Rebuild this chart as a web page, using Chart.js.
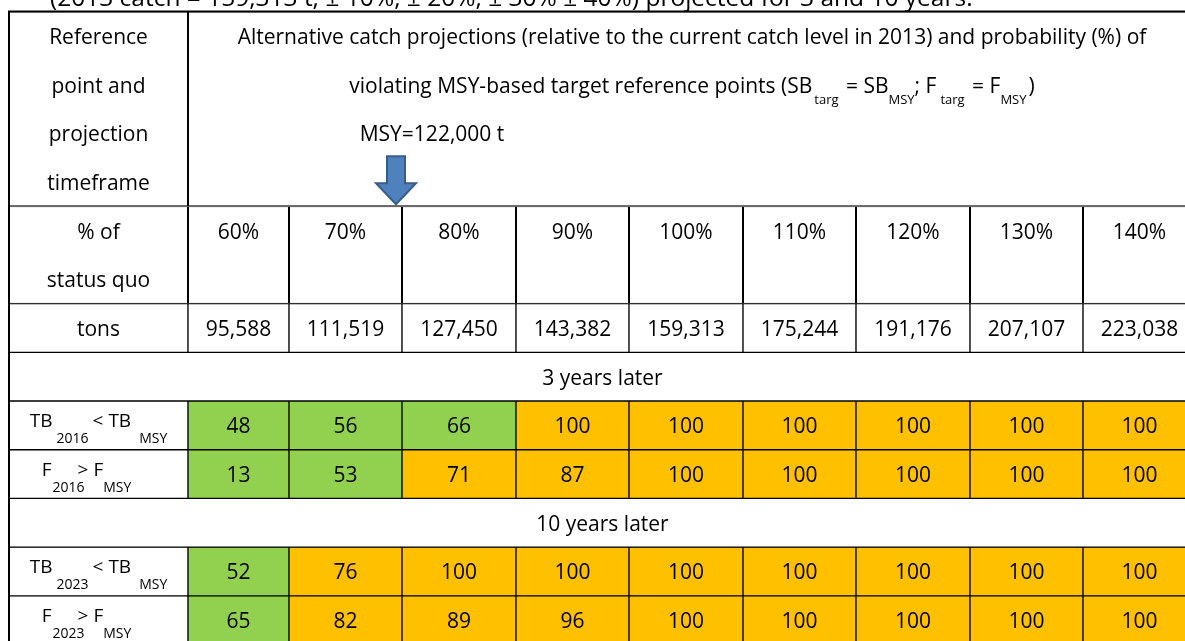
<!DOCTYPE html>
<html>
<head>
<meta charset="utf-8">
<script src="https://cdn.jsdelivr.net/npm/chart.js@4.4.1/dist/chart.umd.min.js"></script>
<style>
html, body { margin: 0; padding: 0; background: #fff; overflow: hidden; }
canvas { display: block; }
</style>
</head>
<body>
<canvas id="projTable" width="1200" height="660"></canvas>
<script>
// catch scenarios (% of the 2013 status quo catch) and the catch in tons
const pctLabels = ['60%', '70%', '80%', '90%', '100%', '110%', '120%', '130%', '140%'];
const catchTons = [95588, 111519, 127450, 143382, 159313, 175244, 191176, 207107, 223038];
const msyTons = 122000;
const catch2013 = 159313;

// probability (%) of violating the MSY-based reference points
const tb2016 = [48, 56, 66, 100, 100, 100, 100, 100, 100];
const f2016 = [13, 53, 71, 87, 100, 100, 100, 100, 100];
const tb2023 = [52, 76, 100, 100, 100, 100, 100, 100, 100];
const f2023 = [65, 82, 89, 96, 100, 100, 100, 100, 100];

// table layout: column widths (first = label column) and row heights in text lines
const colWidths = [179, 101, 113, 114, 113, 114, 113, 114, 113, 113];
const rowSpans = [4, 2, 1, 1, 1, 1, 1, 1, 1];

const GREEN = '#92d050';
const ORANGE = '#ffc000';
const FONT = "'Open Sans', 'Noto Sans', sans-serif";
const colorFor = v => v < 70 ? GREEN : ORANGE;

const colEdges = [0];
colWidths.forEach(w => colEdges.push(colEdges[colEdges.length - 1] + w));
const rowEdges = [0];
rowSpans.forEach(s => rowEdges.push(rowEdges[rowEdges.length - 1] + s));
const nCols = colWidths.length;
const nLines = rowEdges[rowEdges.length - 1];

// one dataset per table row, every cell is a floating bar
function rowDataset(rowIdx, cells) {
    const mid = (rowEdges[rowIdx] + rowEdges[rowIdx + 1]) / 2;
    return {
        data: cells.map(c => ({x: [colEdges[c.from], colEdges[c.to]], y: mid})),
        backgroundColor: cells.map(c => c.color || '#ffffff'),
        borderColor: '#000000',
        borderWidth: 1,
        borderSkipped: false,
        grouped: false,
        categoryPercentage: 1,
        barPercentage: rowSpans[rowIdx]
    };
}
const eachCol = (vals) => [{from: 0, to: 1}].concat(vals.map((v, i) => ({from: i + 1, to: i + 2, color: v === null ? null : colorFor(v)})));
const blanks = pctLabels.map(() => null);

const datasets = [
    rowDataset(0, [{from: 0, to: 1}, {from: 1, to: nCols}]),
    rowDataset(1, eachCol(blanks)),
    rowDataset(2, eachCol(blanks)),
    rowDataset(3, [{from: 0, to: nCols}]),
    rowDataset(4, eachCol(tb2016)),
    rowDataset(5, eachCol(f2016)),
    rowDataset(6, [{from: 0, to: nCols}]),
    rowDataset(7, eachCol(tb2023)),
    rowDataset(8, eachCol(f2023))
];

// plain texts: [fromCol, toCol, line (middle), text]
const texts = [];
['Reference', 'point and', 'projection', 'timeframe'].forEach((t, i) => texts.push([0, 1, i + 0.5, t]));
texts.push([1, nCols, 0.5, 'Alternative catch projections (relative to the current catch level in 2013) and probability (%) of']);
texts.push([0, 1, 4.5, '% of'], [0, 1, 5.5, 'status quo'], [0, 1, 6.5, 'tons']);
pctLabels.forEach((p, i) => texts.push([i + 1, i + 2, 4.5, p]));
catchTons.forEach((t, i) => texts.push([i + 1, i + 2, 6.5, t.toLocaleString('en-US')]));
texts.push([0, nCols, 7.5, '3 years later'], [0, nCols, 10.5, '10 years later']);
[[tb2016, 8.5], [f2016, 9.5], [tb2023, 11.5], [f2023, 12.5]].forEach(([vals, line]) => {
    vals.forEach((v, i) => texts.push([i + 1, i + 2, line, String(v)]));
});

// texts with subscripts: runs of [text, isSub, gapBefore]
const headerRuns = [['violating MSY-based target reference points (SB', false, 0], ['targ', true, 2], [' = SB', false, 2],
    ['MSY', true, 0], ['; F', false, 0], ['targ', true, 4], [' = F', false, 2], ['MSY', true, 0], [')', false, 2]];
const labelRuns = (v, yr, op) => v === 'TB'
    ? [[v, false, 0], [yr, true, 4], [op, false, 4], [v, false, 5], ['MSY', true, 8]]
    : [[v, false, 0], [yr, true, 1], [op, false, -7], [v, false, 5], ['MSY', true, 0]];
// [fromCol, toCol, line, runs, main px, sub px, sub drop, x shift]
const richTexts = [
    [1, nCols, 1.5, headerRuns, 21, 13, 11, 0],
    [0, 1, 8.5, labelRuns('TB', '2016', '<'), 19, 14, 16, 0],
    [0, 1, 9.5, labelRuns('F', '2016', '>'), 19, 14, 16, -12],
    [0, 1, 11.5, labelRuns('TB', '2023', '<'), 19, 14, 16, 0],
    [0, 1, 12.5, labelRuns('F', '2023', '>'), 19, 14, 16, -12]
];

const tablePlugin = {
    id: 'tableText',
    afterDatasetsDraw(chart) {
        const {ctx, scales: {x, y}} = chart;
        const px = c => x.getPixelForValue(colEdges[c]);
        const py = l => y.getPixelForValue(l);
        ctx.save();
        ctx.fillStyle = '#000';
        ctx.textBaseline = 'alphabetic';

        // outer frame of the table
        ctx.strokeStyle = '#000';
        ctx.lineWidth = 2;
        ctx.beginPath();
        ctx.moveTo(px(0), py(nLines));
        ctx.lineTo(px(0), py(0));
        ctx.lineTo(px(nCols), py(0));
        ctx.stroke();

        // caption line above the table (cut off at the top)
        ctx.font = '24.5px ' + FONT;
        ctx.textAlign = 'left';
        ctx.fillText('(' + 2013 + ' catch = ' + catch2013.toLocaleString('en-US') + ' t; \u00b1 10%, \u00b1 20%, \u00b1 30% \u00b1 40%) projected for 3 and 10 years.', 50, py(0) - 5.5);

        ctx.font = '21px ' + FONT;
        ctx.textAlign = 'center';
        texts.forEach(([c0, c1, line, t]) => {
            ctx.fillText(t, (px(c0) + px(c1)) / 2, py(line) + 8);
        });

        ctx.textAlign = 'left';
        richTexts.forEach(([c0, c1, line, runs, mainSize, subSize, subDrop, shift]) => {
            const mainFont = mainSize + 'px ' + FONT;
            const subFont = subSize + 'px ' + FONT;
            let total = 0;
            runs.forEach(([t, sub, gap]) => { ctx.font = sub ? subFont : mainFont; total += gap + ctx.measureText(t).width; });
            let cx = (px(c0) + px(c1)) / 2 - total / 2 + shift;
            const base = mainSize > 20 ? py(line) + 8 : py(line) + 2;
            runs.forEach(([t, sub, gap]) => {
                ctx.font = sub ? subFont : mainFont;
                cx += gap;
                ctx.fillText(t, cx, sub ? base + subDrop : base);
                cx += ctx.measureText(t).width;
            });
        });

        // MSY label and arrow, just left of the 70%/80% boundary
        const ax = px(3) - 6;
        ctx.font = '21px ' + FONT;
        ctx.textAlign = 'center';
        ctx.fillText('MSY=' + msyTons.toLocaleString('en-US') + ' t', ax + 36, py(2.5) + 8);
        const tip = py(rowEdges[1]) - 2;
        ctx.beginPath();
        ctx.moveTo(ax - 9, tip - 48);
        ctx.lineTo(ax + 9, tip - 48);
        ctx.lineTo(ax + 9, tip - 21);
        ctx.lineTo(ax + 20, tip - 21);
        ctx.lineTo(ax, tip);
        ctx.lineTo(ax - 20, tip - 21);
        ctx.lineTo(ax - 9, tip - 21);
        ctx.closePath();
        ctx.fillStyle = '#4f81bd';
        ctx.fill();
        ctx.strokeStyle = '#385d8a';
        ctx.lineWidth = 2;
        ctx.stroke();
        ctx.restore();
    }
};

new Chart(document.getElementById('projTable'), {
    type: 'bar',
    data: {datasets: datasets},
    options: {
        indexAxis: 'y',
        responsive: false,
        animation: false,
        devicePixelRatio: 1,
        events: [],
        layout: {padding: {left: 9, top: 11.5, right: 4, bottom: 15.5}},
        plugins: {legend: {display: false}, tooltip: {enabled: false}},
        scales: {
            x: {type: 'linear', min: 0, max: colEdges[nCols], display: false, offset: false},
            y: {type: 'linear', min: 0, max: nLines, reverse: true, display: false, offset: false, ticks: {stepSize: 1}}
        }
    },
    plugins: [tablePlugin]
});
</script>
</body>
</html>
